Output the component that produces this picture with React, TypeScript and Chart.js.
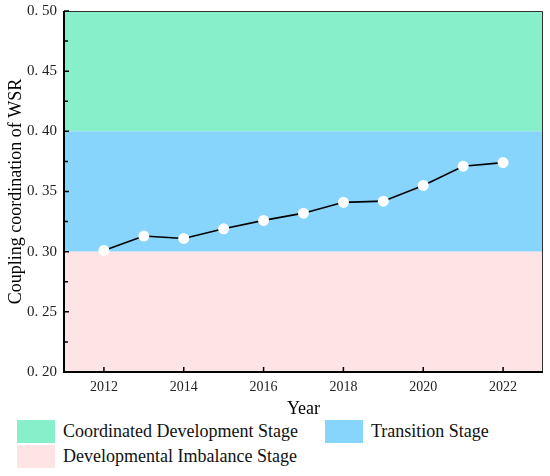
import React, { useRef, useEffect } from 'react';
import { Chart, registerables } from 'chart.js';

Chart.register(...registerables);

const years = [2012, 2013, 2014, 2015, 2016, 2017, 2018, 2019, 2020, 2021, 2022];
const wsr = [0.301, 0.313, 0.311, 0.319, 0.326, 0.332, 0.341, 0.342, 0.355, 0.371, 0.374];
const xTicks = [2012, 2014, 2016, 2018, 2020, 2022];
const yTicks = [0.2, 0.25, 0.3, 0.35, 0.4, 0.45, 0.5];

const stageNames = ['Coordinated Development Stage', 'Transition Stage', 'Developmental Imbalance Stage'];
const stageFrom = [0.4, 0.3, 0.2];
const stageTo = [0.5, 0.4, 0.3];
const stageColors = ['#87F0CB', '#87D4FC', '#FEE4E4'];

const FONT = "'Liberation Serif', 'Times New Roman', serif";

// bands, frame and inward ticks, all drawn before the line and points
const bandsPlugin = {
  id: 'bands',
  beforeDraw(chart: any) {
    const { ctx, chartArea: a, scales } = chart;
    const x = scales.x;
    const y = scales.y;
    ctx.save();
    stageNames.forEach((_, i) => {
      const top = y.getPixelForValue(stageTo[i]);
      const bottom = y.getPixelForValue(stageFrom[i]);
      ctx.fillStyle = stageColors[i];
      ctx.fillRect(a.left, top, a.right - a.left, bottom - top);
    });

    ctx.strokeStyle = '#333';
    ctx.lineWidth = 1;
    ctx.beginPath();
    ctx.moveTo(a.left, a.top + 0.5);
    ctx.lineTo(a.right - 0.5, a.top + 0.5);
    ctx.lineTo(a.right - 0.5, a.bottom);
    ctx.stroke();

    ctx.strokeStyle = '#000';
    ctx.lineWidth = 1.5;
    ctx.beginPath();
    xTicks.forEach((v) => {
      const px = x.getPixelForValue(v);
      ctx.moveTo(px, a.bottom);
      ctx.lineTo(px, a.bottom - 5);
    });
    yTicks.forEach((v, i) => {
      const py = y.getPixelForValue(v);
      ctx.moveTo(a.left, py);
      ctx.lineTo(a.left + 5, py);
      if (i < yTicks.length - 1) {
        const pm = y.getPixelForValue((v + yTicks[i + 1]) / 2);
        ctx.moveTo(a.left, pm);
        ctx.lineTo(a.left + 4, pm);
      }
    });
    ctx.stroke();

    ctx.lineWidth = 2;
    ctx.beginPath();
    ctx.moveTo(a.left, a.top);
    ctx.lineTo(a.left, a.bottom);
    ctx.lineTo(a.right, a.bottom);
    ctx.stroke();
    ctx.restore();
  },
};

const legendPos = [
  { left: 17, top: 420 },
  { left: 325, top: 420 },
  { left: 17, top: 445 },
];

const LineChart = () => {
  const chartRef = useRef<HTMLCanvasElement>(null);

  useEffect(() => {
    document.body.style.margin = '0';
    const ctx = chartRef.current!.getContext('2d')!;
    const chart = new Chart(ctx, {
      type: 'line',
      data: {
        datasets: [
          {
            data: years.map((yr, i) => ({ x: yr, y: wsr[i] })),
            borderColor: '#000',
            borderWidth: 1.6,
            pointRadius: 5.5,
            pointBackgroundColor: '#fff',
            pointBorderColor: '#fff',
            pointBorderWidth: 0,
            tension: 0,
          },
        ],
      },
      options: {
        animation: false,
        responsive: false,
        events: [],
        layout: { padding: { top: 11, right: 7, left: 0, bottom: 0 } },
        plugins: { legend: { display: false }, tooltip: { enabled: false } },
        scales: {
          x: {
            type: 'linear',
            min: 2011,
            max: 2023,
            afterBuildTicks: (s: any) => {
              s.ticks = xTicks.map((value) => ({ value }));
            },
            afterFit: (s: any) => {
              s.height = 48;
            },
            grid: { display: false, drawTicks: false },
            border: { display: false },
            ticks: {
              padding: 7,
              color: '#222',
              font: { family: FONT, size: 14 },
              callback: (v: any) => String(v),
            },
            title: {
              display: true,
              text: 'Year',
              color: '#000',
              font: { family: FONT, size: 18 },
              padding: { top: 1, bottom: 0 },
            },
          },
          y: {
            min: 0.2,
            max: 0.5,
            afterBuildTicks: (s: any) => {
              s.ticks = yTicks.map((value) => ({ value }));
            },
            afterFit: (s: any) => {
              s.width = 64;
              s.paddingTop = 0;
              s.paddingBottom = 0;
            },
            grid: { display: false, drawTicks: false },
            border: { display: false },
            ticks: {
              padding: 7,
              color: '#222',
              font: { family: FONT, size: 15 },
              callback: (v: any) => Number(v).toFixed(2).replace('.', '. '),
            },
            title: {
              display: true,
              text: 'Coupling coordination of WSR',
              color: '#000',
              font: { family: FONT, size: 18 },
              padding: { top: 5, bottom: 0 },
            },
          },
        },
      },
      plugins: [bandsPlugin],
    });

    return () => chart.destroy();
  }, []);

  return (
    <div style={{ position: 'relative', width: 550, height: 476, fontFamily: FONT }}>
      <canvas ref={chartRef} width={550} height={420} style={{ position: 'absolute', left: 0, top: 0 }} />
      {stageNames.map((name, i) => (
        <div
          key={name}
          style={{
            position: 'absolute',
            left: legendPos[i].left,
            top: legendPos[i].top,
            display: 'flex',
            alignItems: 'center',
            height: 23,
          }}
        >
          <div style={{ width: 38, height: 23, background: stageColors[i] }} />
          <span style={{ marginLeft: 8, fontSize: 18, color: '#111', whiteSpace: 'nowrap' }}>{name}</span>
        </div>
      ))}
    </div>
  );
};

export default function App() {
  return <LineChart />;
}
